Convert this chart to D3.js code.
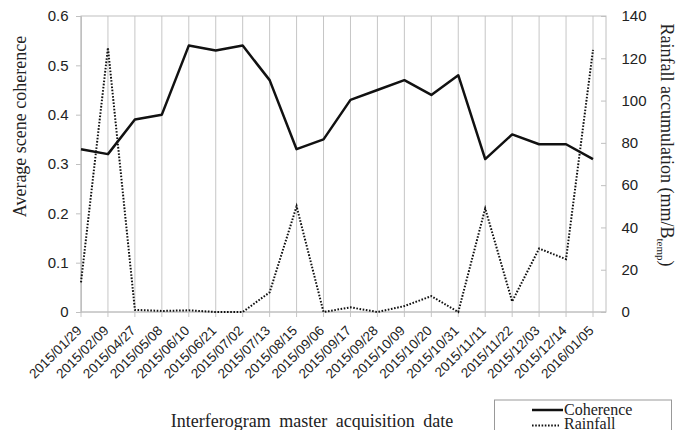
<!DOCTYPE html>
<html>
<head>
<meta charset="utf-8">
<script src="https://cdn.jsdelivr.net/npm/d3@7"></script>
<style>
  body { margin: 0; background: #fff; }
  text { fill: #222; }
</style>
</head>
<body>
<div id="chart"></div>
<script>
const dates = ["2015/01/29","2015/02/09","2015/04/27","2015/05/08","2015/06/10","2015/06/21","2015/07/02","2015/07/13","2015/08/15","2015/09/06","2015/09/17","2015/09/28","2015/10/09","2015/10/20","2015/10/31","2015/11/11","2015/11/22","2015/12/03","2015/12/14","2016/01/05"];
const coherence = [0.33,0.32,0.39,0.40,0.54,0.53,0.54,0.47,0.33,0.35,0.43,0.45,0.47,0.44,0.48,0.31,0.36,0.34,0.34,0.31];
const rainfall = [14,125,1,0.5,0.8,0,0,9.3,50,0,2.2,0,2.8,7.5,0,49,5,30,25,124];
const leftTicks = [0,0.1,0.2,0.3,0.4,0.5,0.6];
const rightTicks = [0,20,40,60,80,100,120,140];

const width = 680, height = 430;
const pL = 81, pR = 606, pT = 16, pB = 312;
const sans = "'Liberation Sans', Arial, sans-serif";
const serif = "'Liberation Serif', 'Times New Roman', serif";

const svg = d3.select("#chart").append("svg")
  .attr("width", width).attr("height", height);

const x = d3.scalePoint().domain(dates).range([pL, 593]);
const yL = d3.scaleLinear().domain([0, 0.6]).range([pB, pT]);
const yR = d3.scaleLinear().domain([0, 140]).range([pB, pT]);

// vertical gridlines
svg.append("g").selectAll("line")
  .data(dates)
  .join("line")
  .attr("x1", d => x(d)).attr("x2", d => x(d))
  .attr("y1", pT).attr("y2", pB + 5)
  .attr("stroke", "#c6c6c6").attr("stroke-width", 1);

// plot frame
svg.append("rect")
  .attr("x", pL).attr("y", pT)
  .attr("width", pR - pL).attr("height", pB - pT)
  .attr("fill", "none").attr("stroke", "#c0c0c0");

// left axis
const gL = svg.append("g").attr("transform", `translate(${pL},0)`)
  .call(d3.axisLeft(yL).tickValues(leftTicks).tickFormat(d => d === 0 ? "0" : d3.format(".1f")(d)).tickSize(5).tickPadding(7.5));
gL.select(".domain").attr("stroke", "#c0c0c0");
gL.selectAll(".tick line").attr("stroke", "#c0c0c0");
gL.selectAll("text").attr("font-family", sans).attr("font-size", 15).attr("fill", "#222");

// right axis (ticks inward)
const gR = svg.append("g").attr("transform", `translate(${pR},0)`)
  .call(d3.axisRight(yR).tickValues(rightTicks).tickSize(0).tickPadding(15.5));
gR.select(".domain").remove();
gR.selectAll(".tick").append("line")
  .attr("x1", -5).attr("x2", 0).attr("stroke", "#c0c0c0");
gR.selectAll("text").attr("font-family", sans).attr("font-size", 15).attr("fill", "#222");

// x axis labels
svg.append("line")
  .attr("x1", pL).attr("x2", pR).attr("y1", pB).attr("y2", pB)
  .attr("stroke", "#c0c0c0");
svg.append("g").selectAll("text")
  .data(dates)
  .join("text")
  .attr("transform", d => `translate(${x(d) + 1.5},${pB + 19.5}) rotate(-45)`)
  .attr("text-anchor", "end")
  .attr("font-family", sans).attr("font-size", 13.5)
  .text(d => d);

// lines
const lineC = d3.line().x((d, i) => x(dates[i])).y(d => yL(d));
const lineR = d3.line().x((d, i) => x(dates[i])).y(d => yR(d));

svg.append("path").datum(rainfall)
  .attr("d", lineR)
  .attr("fill", "none").attr("stroke", "#111")
  .attr("stroke-width", 2).attr("stroke-dasharray", "1.6,1.6");

svg.append("path").datum(coherence)
  .attr("d", lineC)
  .attr("fill", "none").attr("stroke", "#111")
  .attr("stroke-width", 2.5).attr("stroke-linejoin", "round");

// axis titles
svg.append("text")
  .attr("transform", "translate(25.5,126.5) rotate(-90)")
  .attr("text-anchor", "middle")
  .attr("font-family", serif).attr("font-size", 18)
  .text("Average scene coherence");

const rt = svg.append("text")
  .attr("transform", "translate(661,145) rotate(90)")
  .attr("text-anchor", "middle")
  .attr("font-family", serif).attr("font-size", 18);
rt.append("tspan").text("Rainfall accumulation (mm/B");
rt.append("tspan").attr("font-size", 11).attr("dy", 4).text("temp");
rt.append("tspan").attr("dy", -4).text(")");

svg.append("text")
  .attr("x", 312).attr("y", 427)
  .attr("text-anchor", "middle")
  .attr("font-family", serif).attr("font-size", 18)
  .attr("word-spacing", 4)
  .text("Interferogram master acquisition date");

// legend
const leg = svg.append("g");
leg.append("rect")
  .attr("x", 494.5).attr("y", 400).attr("width", 177).attr("height", 40)
  .attr("fill", "#fff").attr("stroke", "#999");
leg.append("line")
  .attr("x1", 532).attr("x2", 563).attr("y1", 410).attr("y2", 410)
  .attr("stroke", "#111").attr("stroke-width", 2.5);
leg.append("text")
  .attr("x", 564).attr("y", 414.5)
  .attr("font-family", serif).attr("font-size", 16)
  .text("Coherence");
leg.append("line")
  .attr("x1", 532).attr("x2", 559).attr("y1", 425.5).attr("y2", 425.5)
  .attr("stroke", "#111").attr("stroke-width", 2).attr("stroke-dasharray", "1.6,1.6");
leg.append("text")
  .attr("x", 564).attr("y", 429)
  .attr("font-family", serif).attr("font-size", 16)
  .text("Rainfall");
</script>
</body>
</html>
